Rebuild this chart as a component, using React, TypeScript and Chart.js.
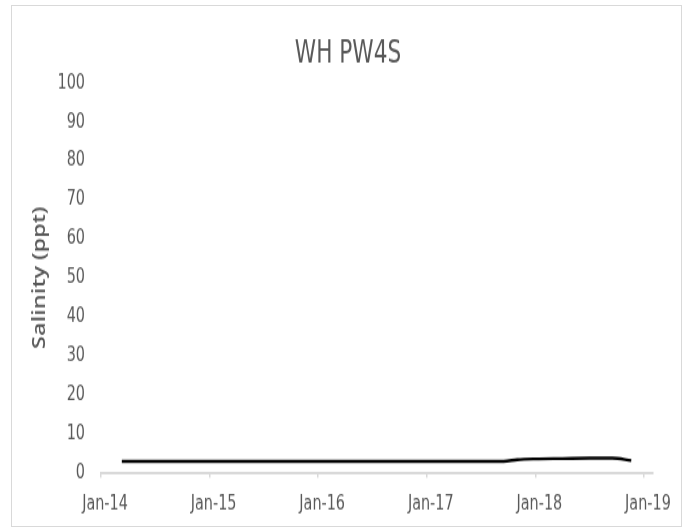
import React, { useEffect, useRef } from "react";
import { Chart, registerables } from "chart.js";

Chart.register(...registerables);

// months since Jan-2014
const months = [2.3, 6, 12, 18, 24, 30, 36, 42, 44.5, 46, 48, 51, 54, 56.5, 58.6];
const salinity = [2.9, 2.9, 2.9, 2.9, 2.9, 2.9, 2.9, 2.9, 2.9, 3.3, 3.5, 3.6, 3.7, 3.7, 3.1];
const tickMonths = [0, 12, 24, 36, 48, 60];
const tickLabels = ["Jan-14", "Jan-15", "Jan-16", "Jan-17", "Jan-18", "Jan-19"];
const titleText = "WH PW4S";
const yTitle = "Salinity (ppt)";

const FONT = "'DejaVu Sans Condensed', 'Liberation Sans Narrow', sans-serif";
const STRETCH = 1.3;
const W = 691;
const H = Math.round((529 / STRETCH) * 10) / 10;
const PAD_L = 43;

export default function App() {
  const ref = useRef<HTMLCanvasElement>(null);
  useEffect(() => {
    document.body.style.margin = "0";
    const ctx = ref.current!;
    const chart = new Chart(ctx, {
      type: "line",
      data: {
        datasets: [
          {
            data: months.map((m, i) => ({ x: m, y: salinity[i] })),
            borderColor: "#000000",
            borderWidth: 2.4,
            pointRadius: 0,
            cubicInterpolationMode: "monotone",
            fill: false,
          },
        ],
      },
      options: {
        animation: false,
        responsive: false,
        maintainAspectRatio: false,
        layout: { padding: { left: PAD_L, right: 38, top: 0, bottom: 0 } },
        plugins: {
          legend: { display: false },
          tooltip: { enabled: false },
          title: {
            display: true,
            text: titleText,
            color: "#595959",
            font: { family: FONT, size: 24, weight: "normal", lineHeight: 1.2 },
            padding: { top: 27, bottom: 7.7 },
          },
        },
        scales: {
          x: {
            type: "linear",
            min: 0,
            max: 61,
            afterFit: (s: any) => {
              s.height = H - 363.5;
            },
            afterBuildTicks: (axis: any) => {
              axis.ticks = tickMonths.map((v) => ({ value: v }));
            },
            ticks: {
              color: "#595959",
              font: { family: FONT, size: 16 },
              maxRotation: 0,
              autoSkip: false,
              padding: 11,
              labelOffset: 4,
              callback: (v: any) => {
                const i = tickMonths.indexOf(Number(v));
                return i >= 0 ? tickLabels[i] : "";
              },
            },
            grid: {
              display: true,
              drawOnChartArea: false,
              drawTicks: true,
              tickLength: 4,
              lineWidth: 1.5,
              color: "#d9d9d9",
            },
            border: { display: true, color: "#d9d9d9", width: 2 },
          },
          y: {
            min: 0,
            max: 100,
            afterFit: (s: any) => {
              s.width = 101 - PAD_L;
            },
            ticks: {
              stepSize: 10,
              color: "#595959",
              font: { family: FONT, size: 16 },
              padding: 16,
            },
            grid: { display: false, drawTicks: false },
            border: { display: false },
            title: {
              display: true,
              text: yTitle,
              color: "#595959",
              font: { family: "'Open Sans', sans-serif", size: 18, weight: 600, lineHeight: 1.2 },
              padding: { top: 40 - PAD_L - 10.8, bottom: 0 },
            },
          },
        },
      },
    });
    return () => chart.destroy();
  }, []);
  return (
    <div style={{ position: "relative", width: 691, height: 529, background: "#fff", overflow: "hidden" }}>
      <div
        style={{
          position: "absolute",
          left: 0,
          top: 0,
          width: W,
          height: H,
          transform: `scaleY(${STRETCH})`,
          transformOrigin: "0 0",
        }}
      >
        <canvas ref={ref} width={W} height={H} style={{ display: "block", width: W, height: H }} />
      </div>
      <div
        style={{
          position: "absolute",
          left: 11,
          top: 5,
          width: 671,
          height: 522,
          border: "1px solid #d9d9d9",
          boxSizing: "border-box",
          pointerEvents: "none",
        }}
      />
    </div>
  );
}
